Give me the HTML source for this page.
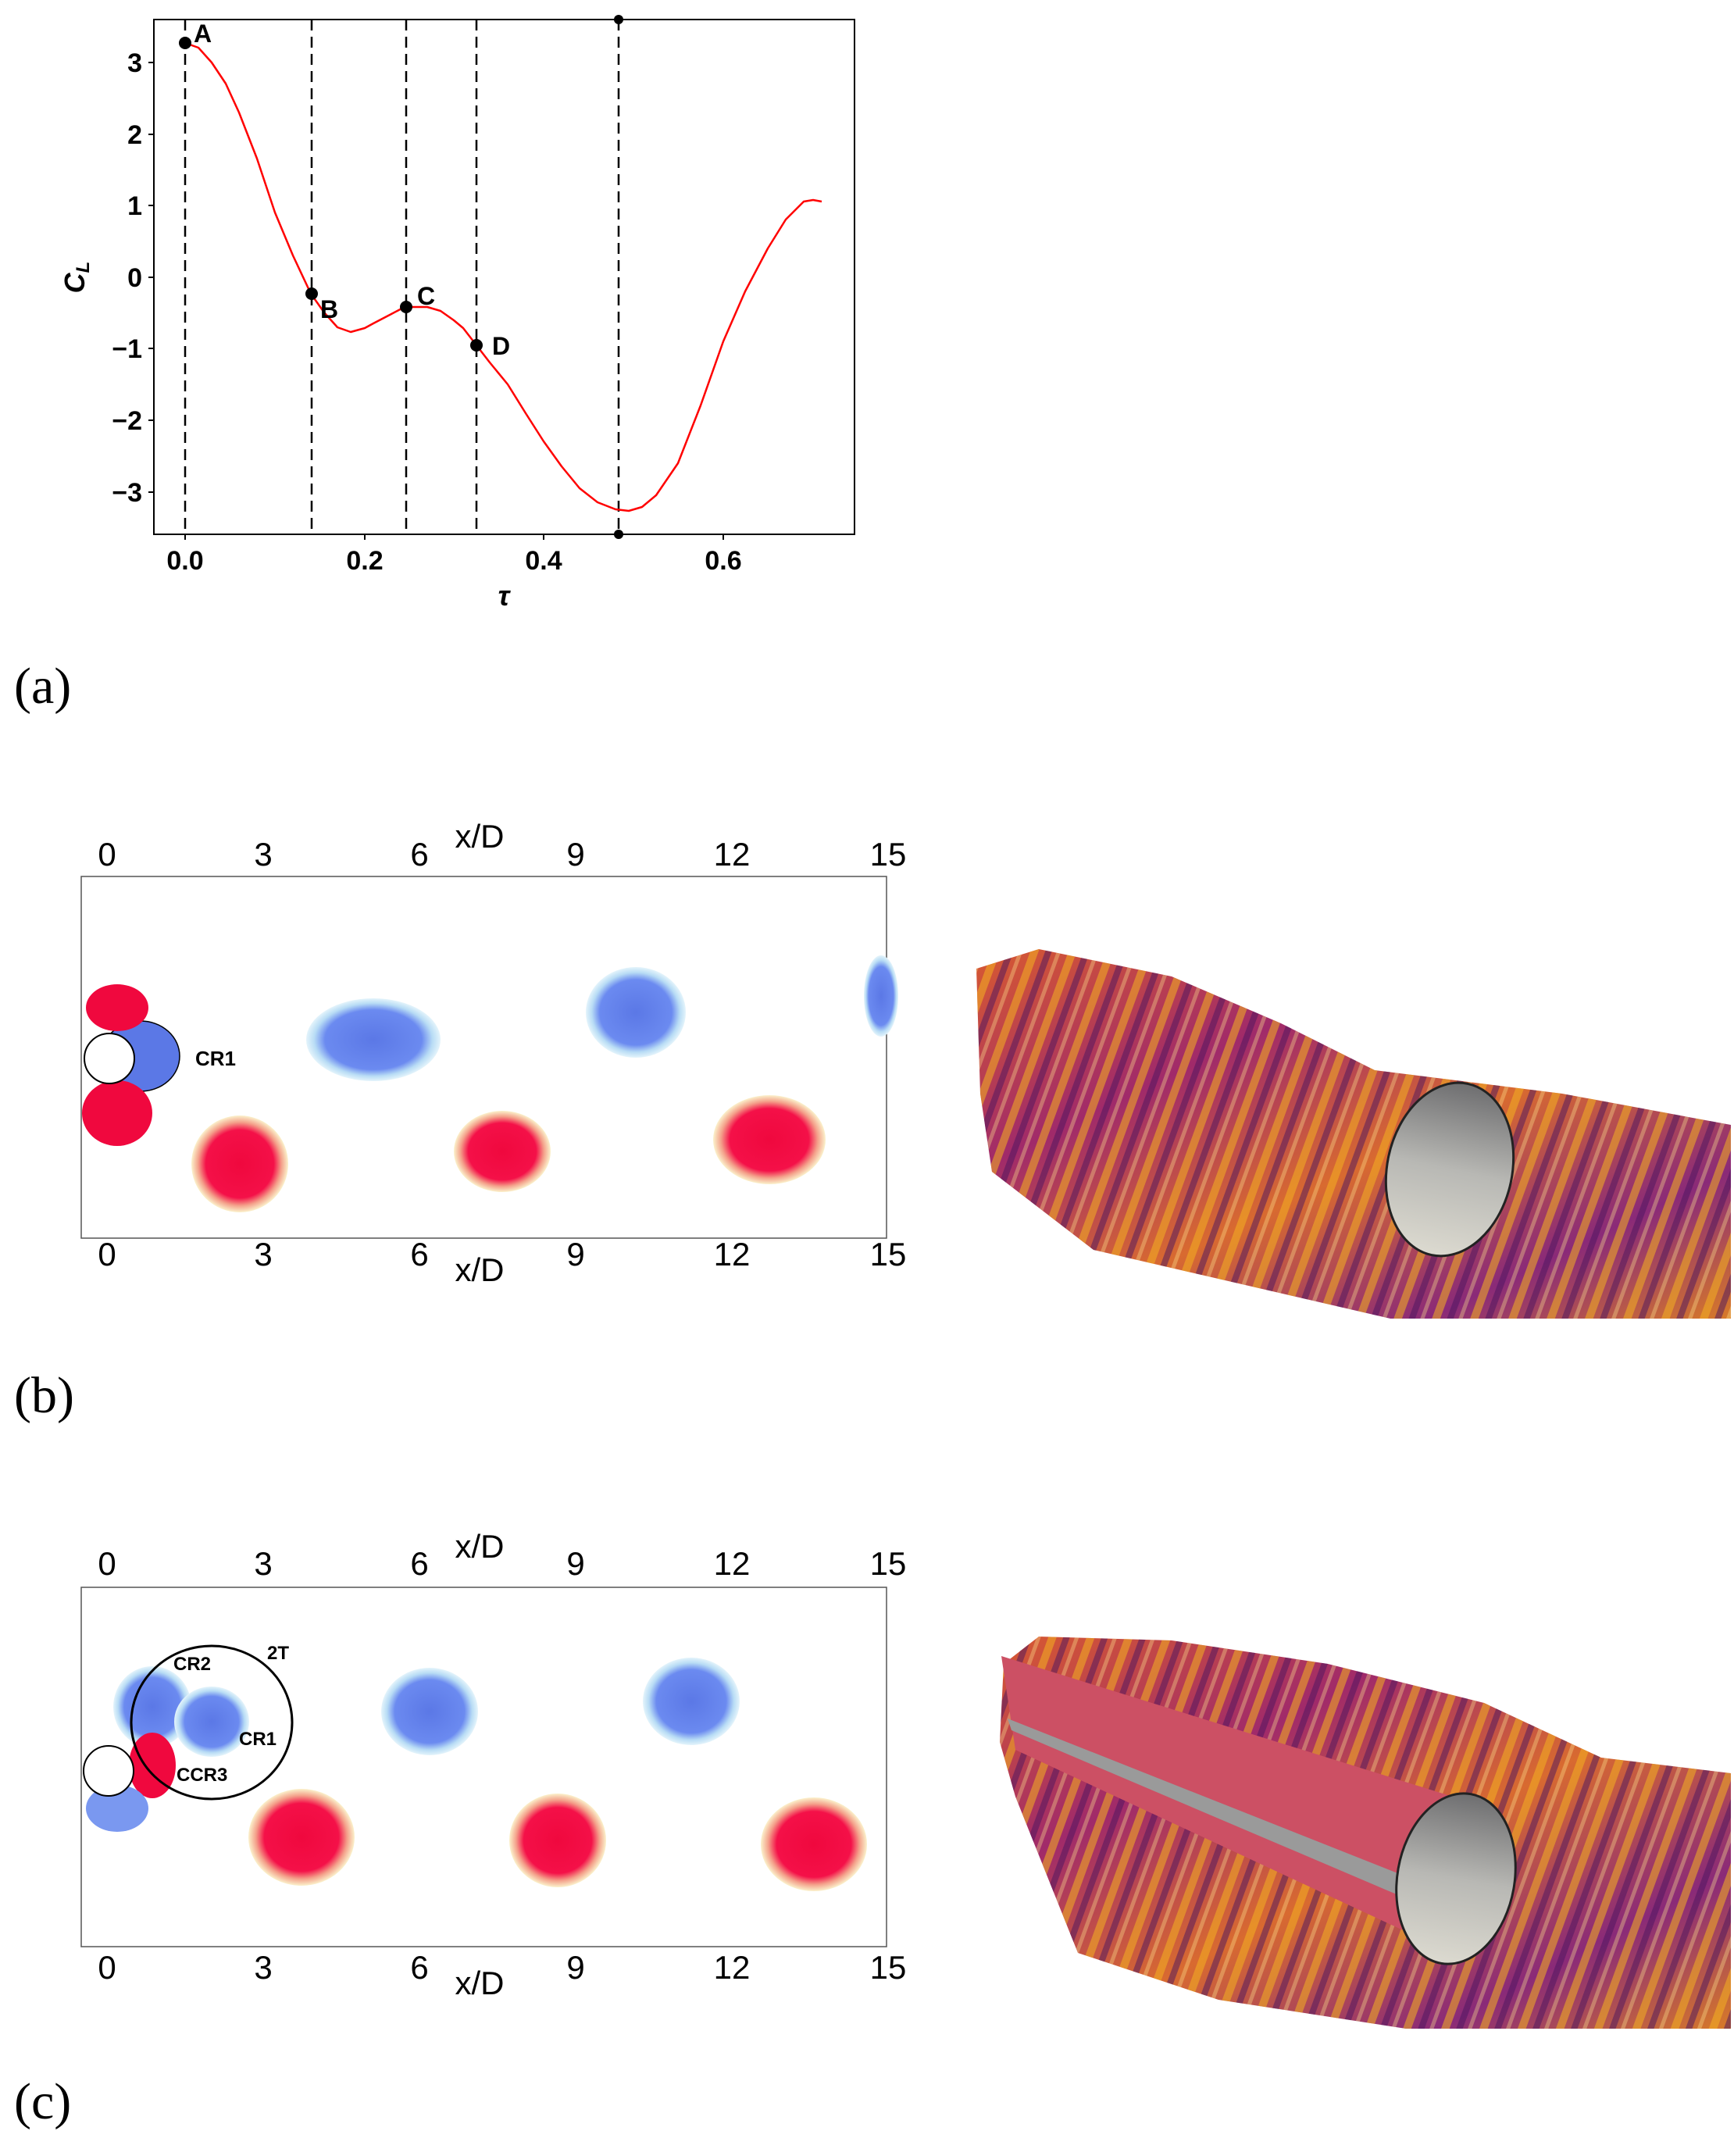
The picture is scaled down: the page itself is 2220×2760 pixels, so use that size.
<!DOCTYPE html>
<html><head><meta charset="utf-8"><style>
html,body{margin:0;padding:0;background:#fff;}
svg{display:block;}
</style></head><body>
<svg width="2220" height="2760" viewBox="0 0 2220 2760" xmlns="http://www.w3.org/2000/svg" font-family="Liberation Sans, DejaVu Sans, sans-serif">
<defs>
<radialGradient id="rb" cx="50%" cy="50%" r="50%"><stop offset="0" stop-color="#5b78e6"/><stop offset="0.72" stop-color="#6b8af0"/><stop offset="0.88" stop-color="#b8dcf5"/><stop offset="1" stop-color="#e4f4fb"/></radialGradient>
<radialGradient id="rr" cx="50%" cy="50%" r="50%"><stop offset="0" stop-color="#f0083e"/><stop offset="0.7" stop-color="#f41048"/><stop offset="0.86" stop-color="#f4a08a"/><stop offset="1" stop-color="#fbf2cc"/></radialGradient>
<linearGradient id="g3" x1="0" y1="0" x2="1" y2="1"><stop offset="0" stop-color="#d85a30"/><stop offset="0.3" stop-color="#a02a6a"/><stop offset="0.55" stop-color="#d86a30"/><stop offset="0.8" stop-color="#8a2a78"/><stop offset="1" stop-color="#d87a28"/></linearGradient>
<pattern id="st" width="46" height="60" patternUnits="userSpaceOnUse" patternTransform="rotate(20)"><rect x="0" width="10" height="60" fill="#f4b020" opacity="0.55"/><rect x="18" width="8" height="60" fill="#4a1460" opacity="0.5"/><rect x="32" width="5" height="60" fill="#ffe890" opacity="0.35"/></pattern>
<linearGradient id="cy" x1="0" y1="0" x2="0" y2="1"><stop offset="0" stop-color="#6e6e70"/><stop offset="0.5" stop-color="#b8b8b4"/><stop offset="1" stop-color="#dcdad0"/></linearGradient>
</defs>

<!-- Panel (a) -->
<rect x="197" y="25" width="897" height="659" fill="none" stroke="#000" stroke-width="2"/>
<g stroke="#000" stroke-width="2.5" stroke-dasharray="14,8">
<line x1="237" y1="25" x2="237" y2="684"/><line x1="399" y1="25" x2="399" y2="684"/>
<line x1="520" y1="25" x2="520" y2="684"/><line x1="610" y1="25" x2="610" y2="684"/>
<line x1="792" y1="25" x2="792" y2="684"/></g>
<polyline fill="none" stroke="#f00" stroke-width="2.5" stroke-linejoin="round" points="237,55 254,61 271,80 289,107 306,144 329,203 352,272 375,327 398,376 415,400 432,419 449,425 467,420 478,414 501,402 518,393 547,393 564,398 581,410 593,420 610,442 627,464 650,492 673,529 696,565 719,597 742,625 765,643 788,652 805,654 822,649 840,634 868,593 897,519 926,437 954,373 983,318 1006,281 1029,258 1041,256 1052,258"/>
<g fill="#000"><circle cx="237" cy="55" r="8"/><circle cx="399" cy="376" r="8"/><circle cx="520" cy="393" r="8"/><circle cx="610" cy="442" r="8"/><circle cx="792" cy="25" r="6"/><circle cx="792" cy="684" r="6"/></g>
<g font-weight="bold" font-size="32"><text x="248" y="54">A</text><text x="410" y="407">B</text><text x="534" y="390">C</text><text x="630" y="454">D</text></g>
<g stroke="#000" stroke-width="2"><line x1="190" y1="80" x2="197" y2="80"/><line x1="190" y1="172" x2="197" y2="172"/><line x1="190" y1="263" x2="197" y2="263"/><line x1="190" y1="355" x2="197" y2="355"/><line x1="190" y1="446" x2="197" y2="446"/><line x1="190" y1="538" x2="197" y2="538"/><line x1="190" y1="630" x2="197" y2="630"/>
<line x1="237" y1="684" x2="237" y2="691"/><line x1="467" y1="684" x2="467" y2="691"/><line x1="696" y1="684" x2="696" y2="691"/><line x1="926" y1="684" x2="926" y2="691"/></g>
<g font-weight="bold" font-size="34" text-anchor="end"><text x="182" y="92">3</text><text x="182" y="184">2</text><text x="182" y="275">1</text><text x="182" y="367">0</text><text x="182" y="458">−1</text><text x="182" y="550">−2</text><text x="182" y="642">−3</text></g>
<g font-weight="bold" font-size="34" text-anchor="middle"><text x="237" y="729">0.0</text><text x="467" y="729">0.2</text><text x="696" y="729">0.4</text><text x="926" y="729">0.6</text></g>
<text x="645" y="775" font-weight="bold" font-style="italic" font-size="36" text-anchor="middle">τ</text>
<text transform="translate(108,355) rotate(-90)" font-weight="bold" font-style="italic" font-size="36" text-anchor="middle">C<tspan font-size="24" dy="6">L</tspan></text>
<text x="18" y="900" font-family="Liberation Serif, serif" font-size="66">(a)</text>

<!-- Panel (b) -->
<rect x="104" y="1122" width="1031" height="463" fill="#fff" stroke="#555" stroke-width="1.5"/>
<g font-size="42" text-anchor="middle"><text x="137" y="1108">0</text><text x="337" y="1108">3</text><text x="537" y="1108">6</text><text x="737" y="1108">9</text><text x="937" y="1108">12</text><text x="1137" y="1108">15</text><text x="614" y="1085">x/D</text>
<text x="137" y="1620">0</text><text x="337" y="1620">3</text><text x="537" y="1620">6</text><text x="737" y="1620">9</text><text x="937" y="1620">12</text><text x="1137" y="1620">15</text><text x="614" y="1640">x/D</text></g>
<ellipse cx="478" cy="1331" rx="86" ry="53" fill="url(#rb)"/>
<ellipse cx="814" cy="1296" rx="64" ry="58" fill="url(#rb)"/>
<ellipse cx="1128" cy="1275" rx="22" ry="52" fill="url(#rb)"/>
<ellipse cx="307" cy="1490" rx="62" ry="62" fill="url(#rr)"/>
<ellipse cx="643" cy="1474" rx="62" ry="52" fill="url(#rr)"/>
<ellipse cx="985" cy="1459" rx="72" ry="57" fill="url(#rr)"/>
<ellipse cx="180" cy="1352" rx="50" ry="45" fill="#5b78e6" stroke="#000" stroke-width="1.5"/>
<ellipse cx="150" cy="1425" rx="45" ry="42" fill="#f0083e"/>
<ellipse cx="150" cy="1290" rx="40" ry="30" fill="#f0083e"/>
<circle cx="140" cy="1355" r="32" fill="#fff" stroke="#000" stroke-width="2"/>
<text x="250" y="1364" font-size="26" font-weight="bold">CR1</text>
<polygon points="1250,1240 1330,1215 1500,1250 1640,1310 1760,1370 2000,1400 2216,1440 2216,1688 1780,1688 1400,1600 1270,1500 1255,1400" fill="url(#g3)"/>
<polygon points="1250,1240 1330,1215 1500,1250 1640,1310 1760,1370 2000,1400 2216,1440 2216,1688 1780,1688 1400,1600 1270,1500 1255,1400" fill="url(#st)"/>
<ellipse cx="1856" cy="1497" rx="80" ry="112" transform="rotate(12 1856 1497)" fill="url(#cy)" stroke="#222" stroke-width="3"/>
<text x="18" y="1808" font-family="Liberation Serif, serif" font-size="66">(b)</text>

<!-- Panel (c) -->
<rect x="104" y="2032" width="1031" height="460" fill="#fff" stroke="#555" stroke-width="1.5"/>
<g font-size="42" text-anchor="middle"><text x="137" y="2016">0</text><text x="337" y="2016">3</text><text x="537" y="2016">6</text><text x="737" y="2016">9</text><text x="937" y="2016">12</text><text x="1137" y="2016">15</text><text x="614" y="1994">x/D</text>
<text x="137" y="2533">0</text><text x="337" y="2533">3</text><text x="537" y="2533">6</text><text x="737" y="2533">9</text><text x="937" y="2533">12</text><text x="1137" y="2533">15</text><text x="614" y="2553">x/D</text></g>
<ellipse cx="195" cy="2185" rx="50" ry="52" fill="url(#rb)"/>
<ellipse cx="271" cy="2204" rx="48" ry="45" fill="url(#rb)"/>
<ellipse cx="550" cy="2191" rx="62" ry="56" fill="url(#rb)"/>
<ellipse cx="885" cy="2178" rx="62" ry="56" fill="url(#rb)"/>
<ellipse cx="386" cy="2352" rx="68" ry="62" fill="url(#rr)"/>
<ellipse cx="714" cy="2356" rx="62" ry="60" fill="url(#rr)"/>
<ellipse cx="1042" cy="2361" rx="68" ry="60" fill="url(#rr)"/>
<ellipse cx="195" cy="2260" rx="30" ry="42" fill="#f0083e"/>
<ellipse cx="150" cy="2315" rx="40" ry="30" fill="#7a98f0"/>
<circle cx="139" cy="2267" r="32" fill="#fff" stroke="#000" stroke-width="2"/>
<ellipse cx="271" cy="2205" rx="103" ry="98" fill="none" stroke="#000" stroke-width="3"/>
<g font-size="24" font-weight="bold"><text x="222" y="2138">CR2</text><text x="342" y="2124">2T</text><text x="306" y="2234">CR1</text><text x="226" y="2280">CCR3</text></g>
<polygon points="1300,2300 1380,2500 1560,2560 1800,2597 2216,2597 2216,2270 2050,2250 1900,2180 1700,2130 1500,2100 1330,2095 1285,2130 1280,2230" fill="url(#g3)"/>
<polygon points="1300,2300 1380,2500 1560,2560 1800,2597 2216,2597 2216,2270 2050,2250 1900,2180 1700,2130 1500,2100 1330,2095 1285,2130 1280,2230" fill="url(#st)"/>
<polygon points="1282,2120 1860,2300 1880,2510 1300,2240" fill="#cc5064"/>
<polygon points="1290,2200 1870,2430 1870,2460 1295,2215" fill="#9a9a9a"/>
<ellipse cx="1864" cy="2405" rx="75" ry="110" transform="rotate(10 1864 2405)" fill="url(#cy)" stroke="#222" stroke-width="3"/>
<text x="18" y="2712" font-family="Liberation Serif, serif" font-size="66">(c)</text>
</svg>
</body></html>
